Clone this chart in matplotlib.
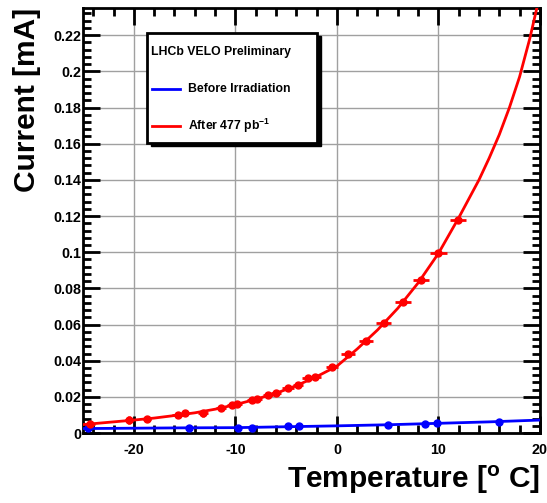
import matplotlib
matplotlib.use("Agg")
import matplotlib.pyplot as plt
from matplotlib.lines import Line2D
from matplotlib.patches import Rectangle
from matplotlib.ticker import MultipleLocator

plt.rcParams["font.family"] = ["Liberation Sans", "DejaVu Sans"]
plt.rcParams["font.weight"] = "bold"
plt.rcParams["axes.unicode_minus"] = False
plt.rcParams["mathtext.fontset"] = "custom"
plt.rcParams["mathtext.rm"] = "Liberation Sans:bold"
plt.rcParams["mathtext.bf"] = "Liberation Sans:bold"
plt.rcParams["mathtext.it"] = "Liberation Sans:bold"

# after irradiation: measured points
red_t = [-24.3, -20.5, -18.7, -15.7, -15.0, -13.2, -11.4, -10.3, -9.8, -8.4, -7.9,
         -6.8, -6.0, -4.8, -3.8, -2.8, -2.2, -0.5, 1.1, 2.9, 4.6, 6.5, 8.3, 10.0, 11.9]
red_i = [0.0050, 0.0072, 0.0077, 0.0099, 0.0109, 0.0109, 0.0140, 0.0155, 0.0162, 0.0182,
         0.0188, 0.0210, 0.0219, 0.0252, 0.0265, 0.0302, 0.0311, 0.0366, 0.0435, 0.0508,
         0.0606, 0.0725, 0.0845, 0.0993, 0.1180]
red_terr = [0.5, 0.4, 0.4, 0.5, 0.4, 0.5, 0.5, 0.5, 0.5, 0.5, 0.5, 0.5, 0.5, 0.6, 0.5,
            0.6, 0.6, 0.6, 0.7, 0.7, 0.7, 0.8, 0.8, 0.8, 0.8]
red_ierr = [0.0018, 0.0020, 0.0008, 0.0008, 0.0008, 0.0018, 0.0008, 0.0008, 0.0008, 0.0008,
            0.0008, 0.0008, 0.0008, 0.0008, 0.0008, 0.0008, 0.0008, 0.0008, 0.0008, 0.0008,
            0.0008, 0.0008, 0.0008, 0.0008, 0.0008]

# after irradiation: fit curve
red_fit_t = [-25, -22, -20, -18, -16, -14, -12, -10, -8, -6, -4, -2, 0, 2, 4, 6, 8, 10,
             12, 14, 15, 16, 17, 18, 19, 19.7]
red_fit_i = [0.0047, 0.0062, 0.0072, 0.0083, 0.0097, 0.0112, 0.0132, 0.0157, 0.0187,
             0.0220, 0.0262, 0.0312, 0.0370, 0.0465, 0.0570, 0.0690, 0.0830, 0.0993,
             0.1190, 0.1400, 0.1520, 0.1650, 0.1800, 0.1970, 0.2180, 0.2350]

# before irradiation
blue_t = [-24.5, -14.6, -9.7, -8.4, -4.8, -3.7, 5.0, 8.7, 9.9, 16.0]
blue_i = [0.0026, 0.0029, 0.0029, 0.0030, 0.0037, 0.0041, 0.0044, 0.0051, 0.0057, 0.0060]
blue_fit_t = [-25, -15, -10, -5, 0, 5, 10, 15, 20]
blue_fit_i = [0.0025, 0.0029, 0.0030, 0.0035, 0.0040, 0.0046, 0.0054, 0.0062, 0.0072]

W, H = 547, 503
fig = plt.figure(figsize=(W / 100, H / 100), dpi=100)
ax = fig.add_axes([0.152, 0.139, 0.835, 0.845])

ax.plot(blue_fit_t, blue_fit_i, color="#0000ff", lw=2, zorder=3)
ax.plot(blue_t, blue_i, "o", color="#0000ff", ms=5, zorder=4)
ax.plot(red_fit_t, red_fit_i, color="#ff0000", lw=2, zorder=3)
ax.errorbar(red_t, red_i, xerr=red_terr, yerr=red_ierr, fmt="o", color="#ff0000",
            ms=5, elinewidth=2, capsize=0, zorder=4)

ax.set_xlim(-25, 20)
ax.set_ylim(0, 0.235)
ax.xaxis.set_major_locator(MultipleLocator(10))
ax.xaxis.set_minor_locator(MultipleLocator(2))
ax.yaxis.set_minor_locator(MultipleLocator(0.004))
ax.set_yticks([0, 0.02, 0.04, 0.06, 0.08, 0.1, 0.12, 0.14, 0.16, 0.18, 0.2, 0.22])
ax.set_yticklabels(["0", "0.02", "0.04", "0.06", "0.08", "0.1", "0.12", "0.14",
                    "0.16", "0.18", "0.2", "0.22"])
ax.grid(True, which="major", color="#a0a0a0", lw=1)
ax.set_axisbelow(True)
ax.tick_params(which="both", direction="in", top=True, right=True, width=2,
               labelsize=10.3, colors="black")
ax.tick_params(which="major", length=12)
ax.tick_params(which="minor", length=6)
ax.tick_params(axis="x", which="major", pad=7)
ax.tick_params(axis="y", which="major", pad=1.5)
for s in ax.spines.values():
    s.set_linewidth(2)

ax.set_xlabel(r"Temperature [$^{\mathrm{o}}$ C]", fontsize=21.5, fontweight="bold",
              loc="right", labelpad=5)
ax.set_ylabel("Current [mA]", fontsize=21.5, fontweight="bold", loc="top")
ax.yaxis.set_label_coords(-0.092, 1.0)

# legend box drawn by hand (ROOT style, with a solid shadow)
def fx(px):
    return px / W

def fy(py):
    return 1 - py / H

fig.patches.append(Rectangle((fx(151), fy(146)), fx(170), 110 / H, transform=fig.transFigure,
                             facecolor="black", edgecolor="black", zorder=5))
fig.patches.append(Rectangle((fx(147), fy(143)), fx(170), 110 / H, transform=fig.transFigure,
                             facecolor="white", edgecolor="black", lw=2, zorder=6))
fig.text(fx(151), fy(52), "LHCb VELO Preliminary", fontsize=8.8, fontweight="bold",
         va="center", ha="left", zorder=7)
fig.add_artist(Line2D([fx(152), fx(180)], [fy(89), fy(89)], color="#0000ff", lw=2, zorder=7))
fig.add_artist(Line2D([fx(152), fx(180)], [fy(126), fy(126)], color="#ff0000", lw=2, zorder=7))
fig.text(fx(188), fy(89), "Before Irradiation", fontsize=8.8, fontweight="bold",
         va="center", ha="left", zorder=7)
fig.text(fx(188), fy(126), r"After 477 pb$^{-1}$", fontsize=8.8, fontweight="bold",
         va="center", ha="left", zorder=7)

fig.savefig("out.png", dpi=100)
